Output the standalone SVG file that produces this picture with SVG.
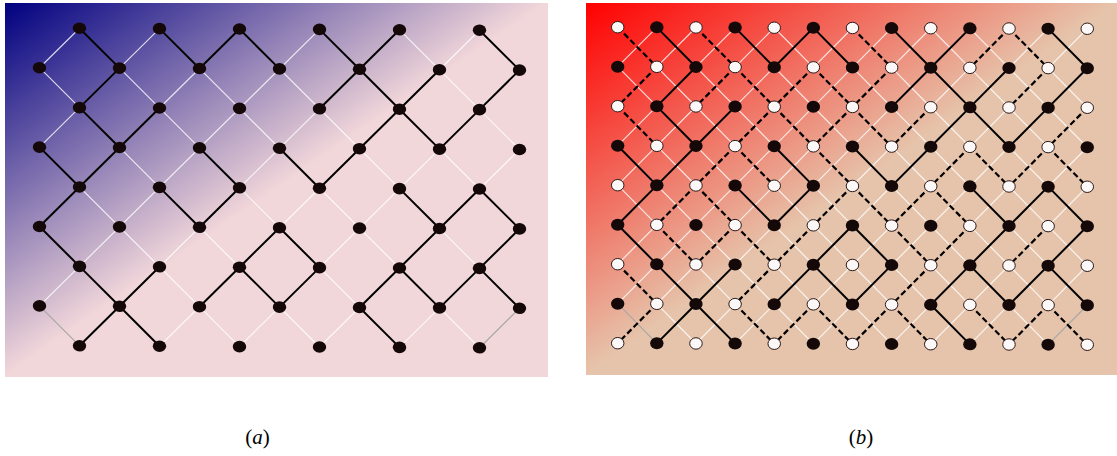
<svg xmlns="http://www.w3.org/2000/svg" xmlns:xlink="http://www.w3.org/1999/xlink" width="1117" height="456" viewBox="0 0 1117 456">
<defs>
<linearGradient id="ga" x1="0" y1="0" x2="1" y2="1"><stop offset="0" stop-color="#000080"/><stop offset="0.5" stop-color="#f2d7da"/><stop offset="1" stop-color="#f2d7da"/></linearGradient>
<linearGradient id="gb" x1="0" y1="0" x2="1" y2="1"><stop offset="0" stop-color="#ff0000"/><stop offset="0.5" stop-color="#e6c4ab"/><stop offset="1" stop-color="#e6c4ab"/></linearGradient>
<ellipse id="bnA" rx="0.1675" ry="0.146" fill="#140808"/>
<ellipse id="bnB" rx="0.171" ry="0.152" fill="#140808"/>
<ellipse id="wnB" rx="0.16" ry="0.145" fill="#fdf8f8" stroke="#2a1a1a" stroke-width="1" vector-effect="non-scaling-stroke"/>
</defs>
<style>
.wl{fill:none;stroke:#ffffff;stroke-opacity:0.8;stroke-width:1.2px;vector-effect:non-scaling-stroke}
.gl{fill:none;stroke:#a8a8a8;stroke-width:1.2px;vector-effect:non-scaling-stroke}
.bl{fill:none;stroke:#000000;stroke-width:2px;stroke-linejoin:round;vector-effect:non-scaling-stroke}
.dl{fill:none;stroke:#000000;stroke-width:2.2px;stroke-dasharray:6 3;vector-effect:non-scaling-stroke}
.cap{font-family:"Liberation Serif","Times New Roman",serif;font-size:21px;fill:#000000}
</style>
<rect id="bg-a" x="5" y="3" width="543" height="374" fill="url(#ga)"/>
<rect id="bg-b" x="586" y="3" width="531" height="372" fill="url(#gb)"/>

<g id="panel-a" transform="matrix(40 0.2 0 39.7 39.5 28)">
<g id="connectors-a">
<path class="wl" d="M0 5L3 8M0 3L5 8M0 1L7 8M1 0L9 8M3 0L11 8M5 0L12 7M7 0L12 5M9 0L12 3M11 0L12 1M1 0L0 1M3 0L0 3M5 0L0 5M7 0L0 7M9 0L1 8M11 0L3 8M12 1L5 8M12 3L7 8M12 5L9 8"/>
<path class="gl" d="M0 7L1 8M12 7L11 8"/>
<path class="bl" d="M1 0L2 1L1 2L2 3L3 2M2 3L1 4L0 5L1 6L2 7L1 8M0 3L1 4M3 6L2 7L3 8M3 0L4 1L5 0L6 1M4 3L5 4L4 5L3 4M7 0L8 1L9 0M7 2L8 1L9 2L10 1M9 2L8 3L7 4L6 3M9 2L10 3L11 2L12 1L11 0M9 4L10 5L11 4L12 5L11 6L10 7L9 6L10 5M11 6L12 7M9 6L8 7L9 8M4 7L5 6L6 5L7 6L6 7L5 6"/>
</g>
<g id="nodes-a">
<use id="a1_0" href="#bnA" x="1" y="0"/><use id="a3_0" href="#bnA" x="3" y="0"/><use id="a5_0" href="#bnA" x="5" y="0"/><use id="a7_0" href="#bnA" x="7" y="0"/><use id="a9_0" href="#bnA" x="9" y="0"/><use id="a11_0" href="#bnA" x="11" y="0"/>
<use id="a0_1" href="#bnA" x="0" y="1"/><use id="a2_1" href="#bnA" x="2" y="1"/><use id="a4_1" href="#bnA" x="4" y="1"/><use id="a6_1" href="#bnA" x="6" y="1"/><use id="a8_1" href="#bnA" x="8" y="1"/><use id="a10_1" href="#bnA" x="10" y="1"/><use id="a12_1" href="#bnA" x="12" y="1"/>
<use id="a1_2" href="#bnA" x="1" y="2"/><use id="a3_2" href="#bnA" x="3" y="2"/><use id="a5_2" href="#bnA" x="5" y="2"/><use id="a7_2" href="#bnA" x="7" y="2"/><use id="a9_2" href="#bnA" x="9" y="2"/><use id="a11_2" href="#bnA" x="11" y="2"/>
<use id="a0_3" href="#bnA" x="0" y="3"/><use id="a2_3" href="#bnA" x="2" y="3"/><use id="a4_3" href="#bnA" x="4" y="3"/><use id="a6_3" href="#bnA" x="6" y="3"/><use id="a8_3" href="#bnA" x="8" y="3"/><use id="a10_3" href="#bnA" x="10" y="3"/><use id="a12_3" href="#bnA" x="12" y="3"/>
<use id="a1_4" href="#bnA" x="1" y="4"/><use id="a3_4" href="#bnA" x="3" y="4"/><use id="a5_4" href="#bnA" x="5" y="4"/><use id="a7_4" href="#bnA" x="7" y="4"/><use id="a9_4" href="#bnA" x="9" y="4"/><use id="a11_4" href="#bnA" x="11" y="4"/>
<use id="a0_5" href="#bnA" x="0" y="5"/><use id="a2_5" href="#bnA" x="2" y="5"/><use id="a4_5" href="#bnA" x="4" y="5"/><use id="a6_5" href="#bnA" x="6" y="5"/><use id="a8_5" href="#bnA" x="8" y="5"/><use id="a10_5" href="#bnA" x="10" y="5"/><use id="a12_5" href="#bnA" x="12" y="5"/>
<use id="a1_6" href="#bnA" x="1" y="6"/><use id="a3_6" href="#bnA" x="3" y="6"/><use id="a5_6" href="#bnA" x="5" y="6"/><use id="a7_6" href="#bnA" x="7" y="6"/><use id="a9_6" href="#bnA" x="9" y="6"/><use id="a11_6" href="#bnA" x="11" y="6"/>
<use id="a0_7" href="#bnA" x="0" y="7"/><use id="a2_7" href="#bnA" x="2" y="7"/><use id="a4_7" href="#bnA" x="4" y="7"/><use id="a6_7" href="#bnA" x="6" y="7"/><use id="a8_7" href="#bnA" x="8" y="7"/><use id="a10_7" href="#bnA" x="10" y="7"/><use id="a12_7" href="#bnA" x="12" y="7"/>
<use id="a1_8" href="#bnA" x="1" y="8"/><use id="a3_8" href="#bnA" x="3" y="8"/><use id="a5_8" href="#bnA" x="5" y="8"/><use id="a7_8" href="#bnA" x="7" y="8"/><use id="a9_8" href="#bnA" x="9" y="8"/><use id="a11_8" href="#bnA" x="11" y="8"/>
</g>
</g>

<g id="panel-b" transform="matrix(39.13 0.13 0 39.5 617.7 27.2)">
<g id="connectors-b">
<path class="wl" d="M0 5L3 8M0 3L5 8M0 1L7 8M1 0L9 8M3 0L11 8M5 0L12 7M7 0L12 5M9 0L12 3M11 0L12 1M1 0L0 1M3 0L0 3M5 0L0 5M7 0L0 7M9 0L1 8M11 0L3 8M12 1L5 8M12 3L7 8M12 5L9 8"/>
<path class="wl" d="M2 0L1 1M4 0L3 1M4 0L5 1M6 0L5 1M8 0L7 1M8 0L9 1M12 0L11 1M1 1L2 2M7 1L8 2M9 1L8 2M9 1L10 2M11 1L12 2M2 2L1 3M2 2L3 3M8 2L9 3M10 2L9 3M10 2L11 3M1 3L0 4M1 3L2 4M5 3L4 4M7 3L6 4M7 3L8 4M0 4L1 5M4 4L3 5M4 4L5 5M10 4L9 5M10 4L11 5M12 4L11 5M1 5L0 6M5 5L6 6M7 5L6 6M9 5L10 6M11 5L12 6M2 6L1 7M2 6L3 7M4 6L5 7M6 6L5 7M6 6L7 7M8 6L9 7M10 6L9 7M10 6L11 7M12 6L11 7M1 7L2 8M3 7L2 8M9 7L8 8"/>
<path class="gl" d="M0 7L1 8M12 7L11 8"/>
<path class="dl" d="M0 0L1 1M2 0L3 1M6 0L7 1M10 0L9 1M10 0L11 1M1 1L0 2M3 1L2 2M3 1L4 2M5 1L4 2M5 1L6 2M7 1L6 2M11 1L10 2M0 2L1 3M4 2L3 3M4 2L5 3M6 2L5 3M6 2L7 3M8 2L7 3M12 2L11 3M3 3L2 4M3 3L4 4M5 3L6 4M9 3L8 4M9 3L10 4M11 3L10 4M11 3L12 4M2 4L1 5M2 4L3 5M6 4L5 5M6 4L7 5M8 4L7 5M8 4L9 5M1 5L2 6M3 5L2 6M3 5L4 6M5 5L4 6M7 5L8 6M9 5L8 6M11 5L10 6M0 6L1 7M4 6L3 7M8 6L7 7M1 7L0 8M3 7L4 8M5 7L4 8M5 7L6 8M7 7L6 8M7 7L8 8M9 7L10 8M11 7L10 8M11 7L12 8"/>
<path class="bl" d="M1 0L2 1L1 2L2 3L3 2M2 3L1 4L0 5L1 6L2 7L1 8M0 3L1 4M3 6L2 7L3 8M3 0L4 1L5 0L6 1M4 3L5 4L4 5L3 4M7 0L8 1L9 0M7 2L8 1L9 2L10 1M9 2L8 3L7 4L6 3M9 2L10 3L11 2L12 1L11 0M9 4L10 5L11 4L12 5L11 6L10 7L9 6L10 5M11 6L12 7M9 6L8 7L9 8M4 7L5 6L6 5L7 6L6 7L5 6"/>
</g>
<g id="nodes-b">
<use id="b1_0" href="#bnB" x="1" y="0"/><use id="b3_0" href="#bnB" x="3" y="0"/><use id="b5_0" href="#bnB" x="5" y="0"/><use id="b7_0" href="#bnB" x="7" y="0"/><use id="b9_0" href="#bnB" x="9" y="0"/><use id="b11_0" href="#bnB" x="11" y="0"/>
<use id="b0_1" href="#bnB" x="0" y="1"/><use id="b2_1" href="#bnB" x="2" y="1"/><use id="b4_1" href="#bnB" x="4" y="1"/><use id="b6_1" href="#bnB" x="6" y="1"/><use id="b8_1" href="#bnB" x="8" y="1"/><use id="b10_1" href="#bnB" x="10" y="1"/><use id="b12_1" href="#bnB" x="12" y="1"/>
<use id="b1_2" href="#bnB" x="1" y="2"/><use id="b3_2" href="#bnB" x="3" y="2"/><use id="b5_2" href="#bnB" x="5" y="2"/><use id="b7_2" href="#bnB" x="7" y="2"/><use id="b9_2" href="#bnB" x="9" y="2"/><use id="b11_2" href="#bnB" x="11" y="2"/>
<use id="b0_3" href="#bnB" x="0" y="3"/><use id="b2_3" href="#bnB" x="2" y="3"/><use id="b4_3" href="#bnB" x="4" y="3"/><use id="b6_3" href="#bnB" x="6" y="3"/><use id="b8_3" href="#bnB" x="8" y="3"/><use id="b10_3" href="#bnB" x="10" y="3"/><use id="b12_3" href="#bnB" x="12" y="3"/>
<use id="b1_4" href="#bnB" x="1" y="4"/><use id="b3_4" href="#bnB" x="3" y="4"/><use id="b5_4" href="#bnB" x="5" y="4"/><use id="b7_4" href="#bnB" x="7" y="4"/><use id="b9_4" href="#bnB" x="9" y="4"/><use id="b11_4" href="#bnB" x="11" y="4"/>
<use id="b0_5" href="#bnB" x="0" y="5"/><use id="b2_5" href="#bnB" x="2" y="5"/><use id="b4_5" href="#bnB" x="4" y="5"/><use id="b6_5" href="#bnB" x="6" y="5"/><use id="b8_5" href="#bnB" x="8" y="5"/><use id="b10_5" href="#bnB" x="10" y="5"/><use id="b12_5" href="#bnB" x="12" y="5"/>
<use id="b1_6" href="#bnB" x="1" y="6"/><use id="b3_6" href="#bnB" x="3" y="6"/><use id="b5_6" href="#bnB" x="5" y="6"/><use id="b7_6" href="#bnB" x="7" y="6"/><use id="b9_6" href="#bnB" x="9" y="6"/><use id="b11_6" href="#bnB" x="11" y="6"/>
<use id="b0_7" href="#bnB" x="0" y="7"/><use id="b2_7" href="#bnB" x="2" y="7"/><use id="b4_7" href="#bnB" x="4" y="7"/><use id="b6_7" href="#bnB" x="6" y="7"/><use id="b8_7" href="#bnB" x="8" y="7"/><use id="b10_7" href="#bnB" x="10" y="7"/><use id="b12_7" href="#bnB" x="12" y="7"/>
<use id="b1_8" href="#bnB" x="1" y="8"/><use id="b3_8" href="#bnB" x="3" y="8"/><use id="b5_8" href="#bnB" x="5" y="8"/><use id="b7_8" href="#bnB" x="7" y="8"/><use id="b9_8" href="#bnB" x="9" y="8"/><use id="b11_8" href="#bnB" x="11" y="8"/>
<use id="w0_0" href="#wnB" x="0" y="0"/><use id="w2_0" href="#wnB" x="2" y="0"/><use id="w4_0" href="#wnB" x="4" y="0"/><use id="w6_0" href="#wnB" x="6" y="0"/><use id="w8_0" href="#wnB" x="8" y="0"/><use id="w10_0" href="#wnB" x="10" y="0"/><use id="w12_0" href="#wnB" x="12" y="0"/>
<use id="w1_1" href="#wnB" x="1" y="1"/><use id="w3_1" href="#wnB" x="3" y="1"/><use id="w5_1" href="#wnB" x="5" y="1"/><use id="w7_1" href="#wnB" x="7" y="1"/><use id="w9_1" href="#wnB" x="9" y="1"/><use id="w11_1" href="#wnB" x="11" y="1"/>
<use id="w0_2" href="#wnB" x="0" y="2"/><use id="w2_2" href="#wnB" x="2" y="2"/><use id="w4_2" href="#wnB" x="4" y="2"/><use id="w6_2" href="#wnB" x="6" y="2"/><use id="w8_2" href="#wnB" x="8" y="2"/><use id="w10_2" href="#wnB" x="10" y="2"/><use id="w12_2" href="#wnB" x="12" y="2"/>
<use id="w1_3" href="#wnB" x="1" y="3"/><use id="w3_3" href="#wnB" x="3" y="3"/><use id="w5_3" href="#wnB" x="5" y="3"/><use id="w7_3" href="#wnB" x="7" y="3"/><use id="w9_3" href="#wnB" x="9" y="3"/><use id="w11_3" href="#wnB" x="11" y="3"/>
<use id="w0_4" href="#wnB" x="0" y="4"/><use id="w2_4" href="#wnB" x="2" y="4"/><use id="w4_4" href="#wnB" x="4" y="4"/><use id="w6_4" href="#wnB" x="6" y="4"/><use id="w8_4" href="#wnB" x="8" y="4"/><use id="w10_4" href="#wnB" x="10" y="4"/><use id="w12_4" href="#wnB" x="12" y="4"/>
<use id="w1_5" href="#wnB" x="1" y="5"/><use id="w3_5" href="#wnB" x="3" y="5"/><use id="w5_5" href="#wnB" x="5" y="5"/><use id="w7_5" href="#wnB" x="7" y="5"/><use id="w9_5" href="#wnB" x="9" y="5"/><use id="w11_5" href="#wnB" x="11" y="5"/>
<use id="w0_6" href="#wnB" x="0" y="6"/><use id="w2_6" href="#wnB" x="2" y="6"/><use id="w4_6" href="#wnB" x="4" y="6"/><use id="w6_6" href="#wnB" x="6" y="6"/><use id="w8_6" href="#wnB" x="8" y="6"/><use id="w10_6" href="#wnB" x="10" y="6"/><use id="w12_6" href="#wnB" x="12" y="6"/>
<use id="w1_7" href="#wnB" x="1" y="7"/><use id="w3_7" href="#wnB" x="3" y="7"/><use id="w5_7" href="#wnB" x="5" y="7"/><use id="w7_7" href="#wnB" x="7" y="7"/><use id="w9_7" href="#wnB" x="9" y="7"/><use id="w11_7" href="#wnB" x="11" y="7"/>
<use id="w0_8" href="#wnB" x="0" y="8"/><use id="w2_8" href="#wnB" x="2" y="8"/><use id="w4_8" href="#wnB" x="4" y="8"/><use id="w6_8" href="#wnB" x="6" y="8"/><use id="w8_8" href="#wnB" x="8" y="8"/><use id="w10_8" href="#wnB" x="10" y="8"/><use id="w12_8" href="#wnB" x="12" y="8"/>
</g>
</g>

<g id="captions">
<text class="cap" x="257.5" y="444" text-anchor="middle">(<tspan font-style="italic">a</tspan>)</text>
<text class="cap" x="861" y="444" text-anchor="middle">(<tspan font-style="italic">b</tspan>)</text>
</g>
</svg>
